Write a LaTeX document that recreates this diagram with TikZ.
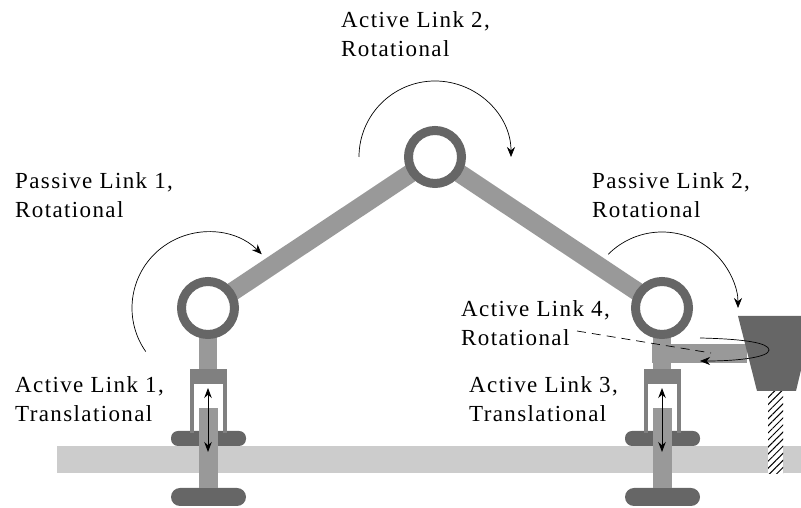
\documentclass[tikz,border=0pt]{standalone}
\usepackage{fontspec}
\setmainfont[LetterSpace=6]{Liberation Serif}
\usetikzlibrary{arrows.meta}
\usetikzlibrary{patterns.meta}
\usetikzlibrary{backgrounds}

\tikzset{
    link/.style={line width=18.5pt, draw=black!40, shorten <=-4pt, shorten >=-4pt},
    joint/.style={circle, draw=black!60, fill=white, line width=9pt, minimum size=53pt, inner sep=0pt},
    foot/.style={fill=black!60, rounded corners=#1},
    sleeve/.style={fill=black!50},
    motion/.style={draw=black, line width=0.7pt, -{Stealth[length=10pt, width=8pt]}},
    twoway/.style={draw=black, line width=0.9pt, {Stealth[length=10pt, width=7.5pt]}-{Stealth[length=10pt, width=7.5pt]}},
    label/.style={font=\fontsize{23}{29}\selectfont, align=left, anchor=base west, inner sep=0pt}
}

\begin{document}
\begin{tikzpicture}[x=1pt, y=1pt]
    \useasboundingbox (0, 0) rectangle (801, 508);

    \draw (208, 200) node[joint] (left) {};
    \draw (435, 351) node[joint] (top) {};
    \draw (662, 200) node[joint] (right) {};

    \begin{pgfonlayer}{background}
        % ground and cutting line
        \fill[black!20] (57, 35) rectangle (801, 62);
        \fill[white] (768, 34) rectangle (783, 117);
        \fill[pattern={Lines[angle=45, distance=5pt, line width=1pt]}] (768, 34) rectangle (783, 117);

        \draw[link] (left) -- (top);
        \draw[link] (top) -- (right);
        \fill[black!40] (652, 145) rectangle (747, 164);

        \foreach \leg/\joint in {208/left, 662/right}{
            \draw[link, shorten >=0pt] (\joint) -- (\leg, 139);
            \fill[foot=7pt] (\leg - 37, 62) rectangle (\leg + 38, 77);
            \fill[foot=9pt] (\leg - 37, 2) rectangle (\leg + 38, 20);
            \fill[sleeve] (\leg - 18.5, 75) rectangle (\leg - 14.5, 124);
            \fill[sleeve] (\leg + 14.5, 75) rectangle (\leg + 18.5, 124);
            \fill[sleeve] (\leg - 18.5, 124) rectangle (\leg + 18.5, 139);
            \fill[black!40] (\leg - 9.5, 20) rectangle (\leg + 9.5, 100);
        }
    \end{pgfonlayer}

    \foreach \leg in {208, 662}{
        \draw[twoway] (\leg, 56) -- (\leg, 120);
    }

    \fill[black!60] (738, 192) -- (801, 192) -- (801, 138) -- (796, 117) -- (757, 117) -- cycle;

    % rotation arrows
    \draw[motion] (left) ++(215:76) arc (215:45:76);
    \draw[motion] (top) ++(180:76) arc (180:0:76);
    \draw[motion] (right) ++(135:76) arc (135:0:76);
    \draw[motion] (700, 170) .. controls (745, 169) and (769, 165) .. (769, 158) .. controls (769, 151) and (740, 147) .. (700, 147);

    \coordinate (dashstart) at (577, 177);
    \coordinate (dashend) at (711, 155);
    \draw[line width=0.7pt, dash pattern=on 9pt off 6pt] (dashstart) -- (dashend);

    \node[label] (passive1) at (15, 290) {Passive Link 1,\\Rotational};
    \node[label] (active1) at (15, 86) {Active Link 1,\\Translational};
    \node[label] (active2) at (341, 451) {Active Link 2,\\Rotational};
    \node[label] (passive2) at (592, 290) {Passive Link 2,\\Rotational};
    \node[label] (active4) at (461, 162) {Active Link 4,\\Rotational};
    \node[label] (active3) at (469, 86) {Active Link 3,\\Translational};
\end{tikzpicture}
\end{document}
